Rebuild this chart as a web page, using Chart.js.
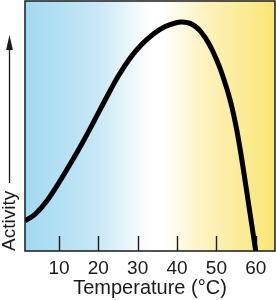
<!DOCTYPE html>
<html>
<head>
<meta charset="utf-8">
<script src="https://cdn.jsdelivr.net/npm/chart.js@4/dist/chart.umd.min.js"></script>
<style>
  html, body { margin: 0; padding: 0; background: #ffffff; }
  #wrap { width: 276px; height: 300px; position: relative; }
</style>
</head>
<body>
<div id="wrap"><canvas id="chart"></canvas></div>
<script>
// Enzyme activity vs temperature
const temperature = [1.4, 4, 7, 10, 13, 16, 19, 22, 25, 28, 31, 34, 37, 40, 41, 42, 43, 44, 45, 46, 47, 48, 49, 50, 51, 52, 53, 54, 55, 56, 57, 58, 59, 60];
const activity = [12.0, 14.8, 20.2, 27.4, 35.2, 43.4, 52.2, 61.2, 69.8, 77.0, 82.6, 86.8, 89.8, 91.4, 91.6, 91.5, 91.2, 90.5, 89.4, 87.8, 85.7, 83.2, 80.2, 76.7, 72.8, 68.2, 63.2, 57.2, 49.9, 41.1, 31.2, 20.8, 10.4, 0];
const tickValues = [10, 20, 30, 40, 50, 60];
const xLabel = 'Temperature (°C)';
const yLabel = 'Activity';

const FONT = '"Liberation Sans", Arial, sans-serif';
const INK = '#1a1a1a';

// blue -> white -> yellow background plus the frame, ticks and arrow
const decorPlugin = {
    id: 'decor',
    beforeDatasetsDraw(chart) {
        const { ctx, chartArea: a } = chart;
        const g = ctx.createLinearGradient(a.left, 0, a.right, 0);
        g.addColorStop(0, '#a2d9f1');
        g.addColorStop(0.28, '#c6e7f6');
        g.addColorStop(0.5, '#ffffff');
        g.addColorStop(0.55, '#ffffff');
        g.addColorStop(0.72, '#fdf2bf');
        g.addColorStop(1, '#fae674');
        ctx.save();
        ctx.fillStyle = g;
        ctx.fillRect(a.left, a.top, a.right - a.left, a.bottom - a.top);

        // tick marks pointing up into the plot
        const xs = chart.scales.x;
        ctx.strokeStyle = INK;
        ctx.lineWidth = 1.4;
        xs.ticks.forEach(t => {
            const px = Math.round(xs.getPixelForValue(t.value)) + 0.5;
            ctx.beginPath();
            ctx.moveTo(px, a.bottom);
            ctx.lineTo(px, a.bottom - 15);
            ctx.stroke();
        });
        ctx.restore();
    },
    afterDraw(chart) {
        const { ctx, chartArea: a } = chart;
        ctx.save();
        ctx.strokeStyle = INK;
        ctx.lineWidth = 1.5;
        ctx.strokeRect(a.left, a.top, a.right - a.left, a.bottom - a.top);

        // arrow above the "Activity" label
        const ax = 9.5;
        ctx.lineWidth = 1.3;
        ctx.beginPath();
        ctx.moveTo(ax, 183);
        ctx.lineTo(ax, 46);
        ctx.stroke();
        ctx.fillStyle = INK;
        ctx.beginPath();
        ctx.moveTo(ax, 35);
        ctx.lineTo(ax - 3.4, 50);
        ctx.lineTo(ax + 3.4, 50);
        ctx.closePath();
        ctx.fill();
        ctx.restore();
    }
};

const points = temperature.map((t, i) => ({ x: t, y: activity[i] }));

new Chart(document.getElementById('chart'), {
    type: 'line',
    data: {
        datasets: [{
            data: points,
            borderColor: '#000000',
            borderWidth: 5,
            pointRadius: 0,
            fill: false,
            tension: 0.35,
            borderCapStyle: 'butt'
        }]
    },
    options: {
        responsive: true,
        maintainAspectRatio: false,
        animation: false,
        layout: { padding: { top: 1, right: 1, left: 0, bottom: 0 } },
        plugins: {
            legend: { display: false },
            tooltip: { enabled: false }
        },
        scales: {
            x: {
                type: 'linear',
                min: 1.36,
                max: 64.9,
                afterFit(scale) { scale.height = 49; },
                afterBuildTicks(scale) {
                    scale.ticks = tickValues.map(v => ({ value: v }));
                },
                grid: { display: false, drawTicks: false },
                border: { display: false },
                ticks: {
                    color: INK,
                    padding: 6,
                    font: { family: FONT, size: 19 }
                },
                title: {
                    display: true,
                    text: xLabel,
                    color: INK,
                    padding: { top: 0, bottom: 0 },
                    font: { family: FONT, size: 20 }
                }
            },
            y: {
                min: 0,
                max: 100,
                afterFit(scale) { scale.width = 25; },
                grid: { display: false, drawTicks: false },
                border: { display: false },
                ticks: { display: false },
                title: {
                    display: true,
                    text: yLabel,
                    align: 'start',
                    color: INK,
                    padding: { top: -2, bottom: 0 },
                    font: { family: FONT, size: 19 }
                }
            }
        }
    },
    plugins: [decorPlugin]
});
</script>
</body>
</html>
